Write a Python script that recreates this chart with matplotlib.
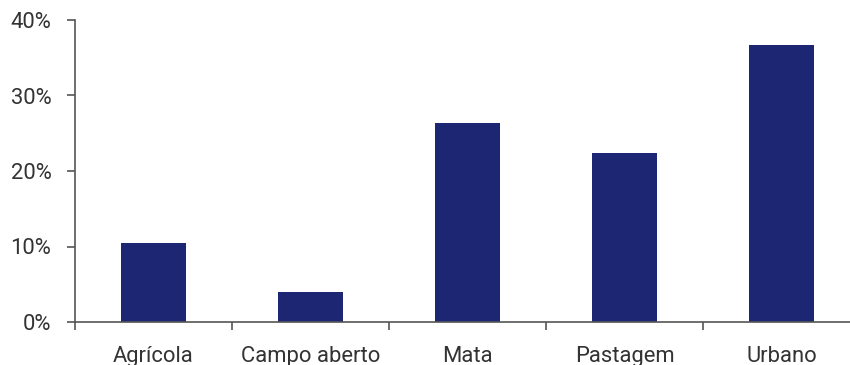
import matplotlib.pyplot as plt
import numpy as np
from matplotlib.ticker import FixedLocator, FuncFormatter

# land use categories and their share (%)
categories = ["Agrícola", "Campo aberto", "Mata", "Pastagem", "Urbano"]
shares = [10.5, 4.0, 26.4, 22.4, 36.7]
yticks = [0, 10, 20, 30, 40]

plt.rcParams['font.family'] = ['Roboto', 'DejaVu Sans']

fig = plt.figure(figsize=(8.5, 3.65), dpi=100)
ax = fig.add_axes([75 / 850, 43 / 365, 785 / 850, 302 / 365])

x = np.arange(len(categories))
ax.bar(x, shares, width=0.414, color="#1c2673", zorder=2)

ax.set_xlim(-0.5, len(categories) - 0.5)
ax.set_ylim(0, 40)

# ticks on the boundaries between categories, labels at the centres
ax.xaxis.set_major_locator(FixedLocator(np.arange(len(categories) + 1) - 0.5))
ax.xaxis.set_major_formatter(FuncFormatter(lambda v, p: ""))
ax.xaxis.set_minor_locator(FixedLocator(x))
ax.set_xticklabels(categories, minor=True)
ax.tick_params(axis="x", which="major", length=6, width=1.2, color="#555555", direction="out")
ax.tick_params(axis="x", which="minor", length=0, pad=17, labelsize=15.8, labelcolor="#333333")

ax.set_yticks(yticks)
ax.yaxis.set_major_formatter(FuncFormatter(lambda v, p: f"{v:.0f}%"))
ax.tick_params(axis="y", length=6, width=1.2, color="#555555", pad=11,
               labelsize=15.8, labelcolor="#333333")

for side in ("top", "right"):
    ax.spines[side].set_visible(False)
for side in ("left", "bottom"):
    ax.spines[side].set_color("#555555")
    ax.spines[side].set_linewidth(1.2)

fig.savefig("out.png", dpi=100)
